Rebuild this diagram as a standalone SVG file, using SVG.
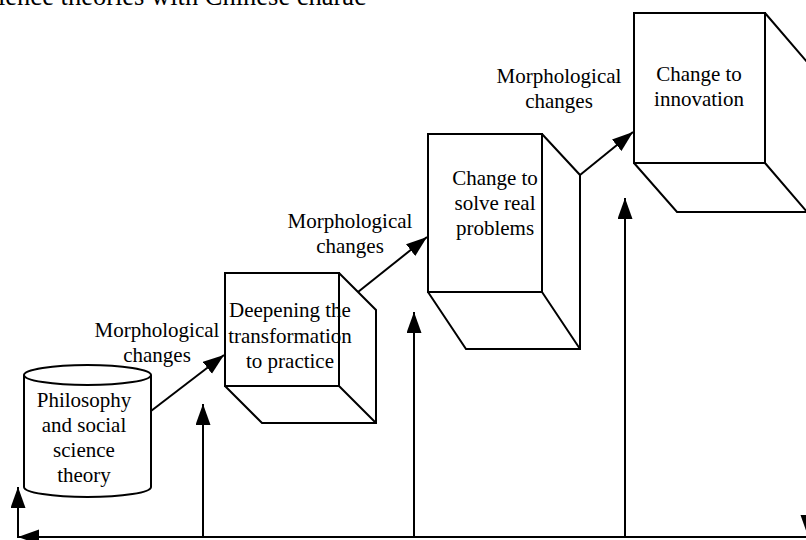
<svg xmlns="http://www.w3.org/2000/svg" width="806" height="540" viewBox="0 0 806 540">
<style>
.s{fill:none;stroke:#000;stroke-width:2;stroke-linejoin:miter}
.f{fill:#fff;stroke:#000;stroke-width:2}
text{font-family:"Liberation Serif","Times New Roman",serif;font-size:21px;fill:#000;text-anchor:middle}
.c{stroke:#000;stroke-width:2;fill:none}
</style>
<defs>
<marker id="ah" markerUnits="userSpaceOnUse" markerWidth="22" markerHeight="16" refX="21" refY="7.5" orient="auto">
<path d="M0,0 L21,7.5 L0,15 Z" fill="#000"/>
</marker>
</defs>
<rect width="806" height="540" fill="#fff"/>
<text x="-2" y="5" style="font-size:26.5px;text-anchor:start">ience theories with Chinese charac</text>

<g id="node-philosophy">
<path class="f" d="M24,375 A63.5,10 0 0 1 151,375 L151,487 A63.5,10 0 0 1 24,487 Z"/>
<path class="s" d="M24,375 A63.5,10 0 0 0 151,375"/>
<text x="84" y="407">Philosophy</text>
<text x="84" y="432">and social</text>
<text x="84" y="457">science</text>
<text x="84" y="482">theory</text>
</g>

<g id="node-deepening">
<path class="s" d="M225,273 H339 V386 H225 Z M339,273 L376,310 V423 H262 L225,386 M339,386 L376,423"/>
<text x="290" y="317">Deepening the</text>
<text x="290" y="343">transformation</text>
<text x="290" y="368">to practice</text>
</g>

<g id="node-solve">
<path class="s" d="M428,134 H542 V292 H428 Z M542,134 L580,175 V349 H466 L428,292 M542,292 L580,349"/>
<text x="495" y="185">Change to</text>
<text x="495" y="210">solve real</text>
<text x="495" y="235">problems</text>
</g>

<g id="node-innovation">
<path class="s" d="M634,13 H765 V163 H634 Z M765,13 L807,62 V212 H677 L634,163 M765,163 L807,212"/>
<text x="699" y="81">Change to</text>
<text x="699" y="106">innovation</text>
</g>

<g id="labels">
<text x="157" y="337">Morphological</text>
<text x="157" y="362">changes</text>
<text x="350" y="228">Morphological</text>
<text x="350" y="253">changes</text>
<text x="559" y="83">Morphological</text>
<text x="559" y="108">changes</text>
</g>

<g id="connectors">
<line class="c" x1="151" y1="411" x2="224" y2="355" marker-end="url(#ah)"/>
<line class="c" x1="358" y1="292" x2="427" y2="237" marker-end="url(#ah)"/>
<line class="c" x1="580" y1="175" x2="633" y2="132" marker-end="url(#ah)"/>
<line class="c" x1="808" y1="212" x2="808" y2="536" marker-end="url(#ah)"/>
<line class="c" x1="808" y1="537" x2="18" y2="537" marker-end="url(#ah)"/>
<line class="c" x1="18" y1="538" x2="18" y2="487" marker-end="url(#ah)"/>
<line class="c" x1="203" y1="537" x2="203" y2="404" marker-end="url(#ah)"/>
<line class="c" x1="414" y1="537" x2="414" y2="312" marker-end="url(#ah)"/>
<line class="c" x1="625" y1="537" x2="625" y2="198" marker-end="url(#ah)"/>
</g>
</svg>
